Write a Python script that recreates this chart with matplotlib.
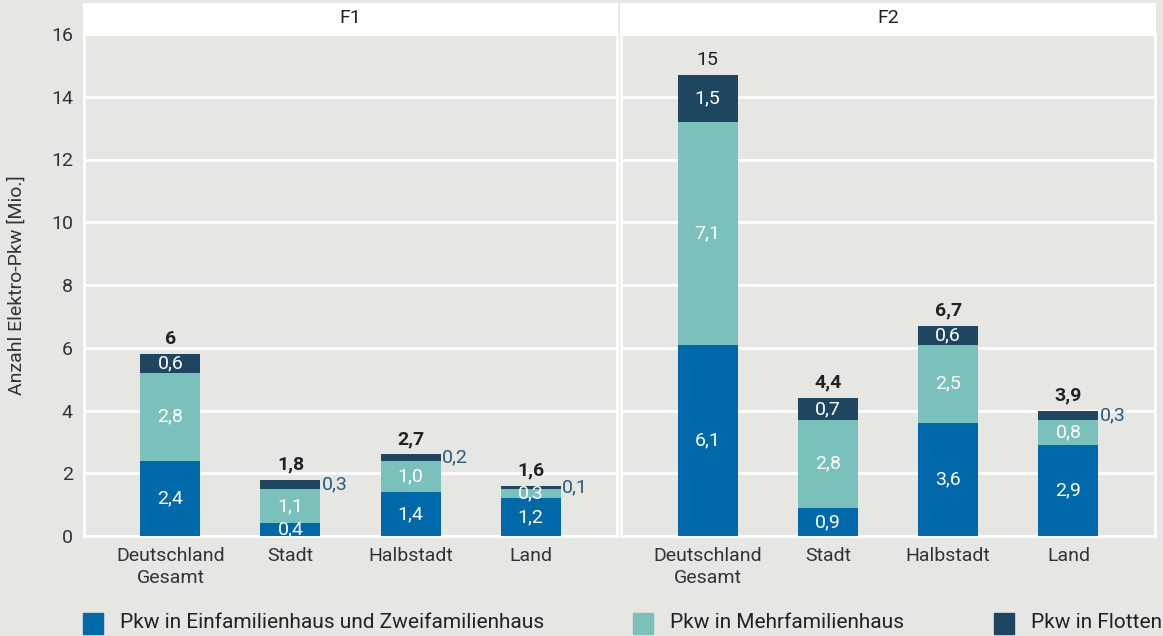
import numpy as np
import matplotlib.pyplot as plt

plt.rcParams['font.family'] = ['Roboto', 'DejaVu Sans']

categories = ['Deutschland\nGesamt', 'Stadt', 'Halbstadt', 'Land']
facets = ['F1', 'F2']
series = ['Pkw in Einfamilienhaus und Zweifamilienhaus',
          'Pkw in Mehrfamilienhaus', 'Pkw in Flotten']
colors = ['#0069aa', '#7bc1bb', '#1e4660']

efh = {'F1': [2.4, 0.4, 1.4, 1.2], 'F2': [6.1, 0.9, 3.6, 2.9]}
mfh = {'F1': [2.8, 1.1, 1.0, 0.3], 'F2': [7.1, 2.8, 2.5, 0.8]}
flotten = {'F1': [0.6, 0.3, 0.2, 0.1], 'F2': [1.5, 0.7, 0.6, 0.3]}
totals = {'F1': ['6', '1,8', '2,7', '1,6'], 'F2': ['15', '4,4', '6,7', '3,9']}
# which flotten labels sit outside the bar (to the right)
outside = {'F1': [False, True, True, True], 'F2': [False, False, False, True]}

bg = '#e6e6e2'
W, H = 1163, 636
fig = plt.figure(figsize=(W / 100, H / 100), dpi=100, facecolor=bg)

panels = [(84, 617), (621, 1155)]
top, bottom = 34, 536
x = np.arange(len(categories))
fs = 14

axes = []
for (l, r), f in zip(panels, facets):
    ax = fig.add_axes([l / W, 1 - bottom / H, (r - l) / W, (bottom - top) / H])
    ax.set_facecolor(bg)
    ax.set_ylim(0, 16)
    ax.set_xlim(-0.72, 3.72)
    ax.set_yticks(np.arange(0, 17, 2))
    ax.grid(axis='y', color='white', linewidth=2)
    ax.set_axisbelow(True)
    for s in ax.spines.values():
        s.set_color('white')
        s.set_linewidth(2)
    ax.tick_params(length=0, labelsize=fs, colors='#333333', pad=8)
    ax.set_xticks(x)
    ax.set_xticklabels(categories, linespacing=1.25)

    layers = [efh[f], mfh[f], flotten[f]]
    base = np.zeros(len(categories))
    for k, (vals, c) in enumerate(zip(layers, colors)):
        vals = np.array(vals)
        ax.bar(x, vals, 0.5, bottom=base, color=c, zorder=3)
        for i, v in enumerate(vals):
            lab = f'{v:.1f}'.replace('.', ',')
            if k == 2 and outside[f][i]:
                ax.text(x[i] + 0.26, base[i] + v / 2, lab, ha='left', va='center',
                        fontsize=fs, color='#2c5a7a', zorder=4)
            else:
                ax.text(x[i], base[i] + v / 2, lab, ha='center', va='center',
                        fontsize=fs, color='white', zorder=4)
        base += vals
    for i, t in enumerate(totals[f]):
        ax.text(x[i], base[i] + 0.2, t, ha='center', va='bottom', fontsize=fs,
                fontweight='normal' if t == '15' else 'bold', color='#222222', zorder=4)
    axes.append(ax)

    # facet strip
    sax = fig.add_axes([(l - 1) / W, 1 - 33 / H, (r - l + 2) / W, 30 / H])
    sax.set_facecolor('white')
    sax.set_xticks([])
    sax.set_yticks([])
    for s in sax.spines.values():
        s.set_visible(False)
    sax.text(0.5, 0.5, f, ha='center', va='center', fontsize=fs, color='#222222',
             transform=sax.transAxes)

axes[1].set_yticklabels([])
axes[0].set_ylabel('Anzahl Elektro-Pkw [Mio.]', fontsize=fs, color='#333333', labelpad=18)

xs = [83, 633, 994]
for hx, h, s in zip(xs, colors, series):
    fig.patches.append(plt.Rectangle((hx / W, 1 - 634 / H), 20 / W, 21 / H,
                                     transform=fig.transFigure, color=h))
    fig.text((hx + 37) / W, 1 - 623 / H, s, fontsize=15, color='#222222', va='center')

fig.savefig('out.png', dpi=100, facecolor=bg)
